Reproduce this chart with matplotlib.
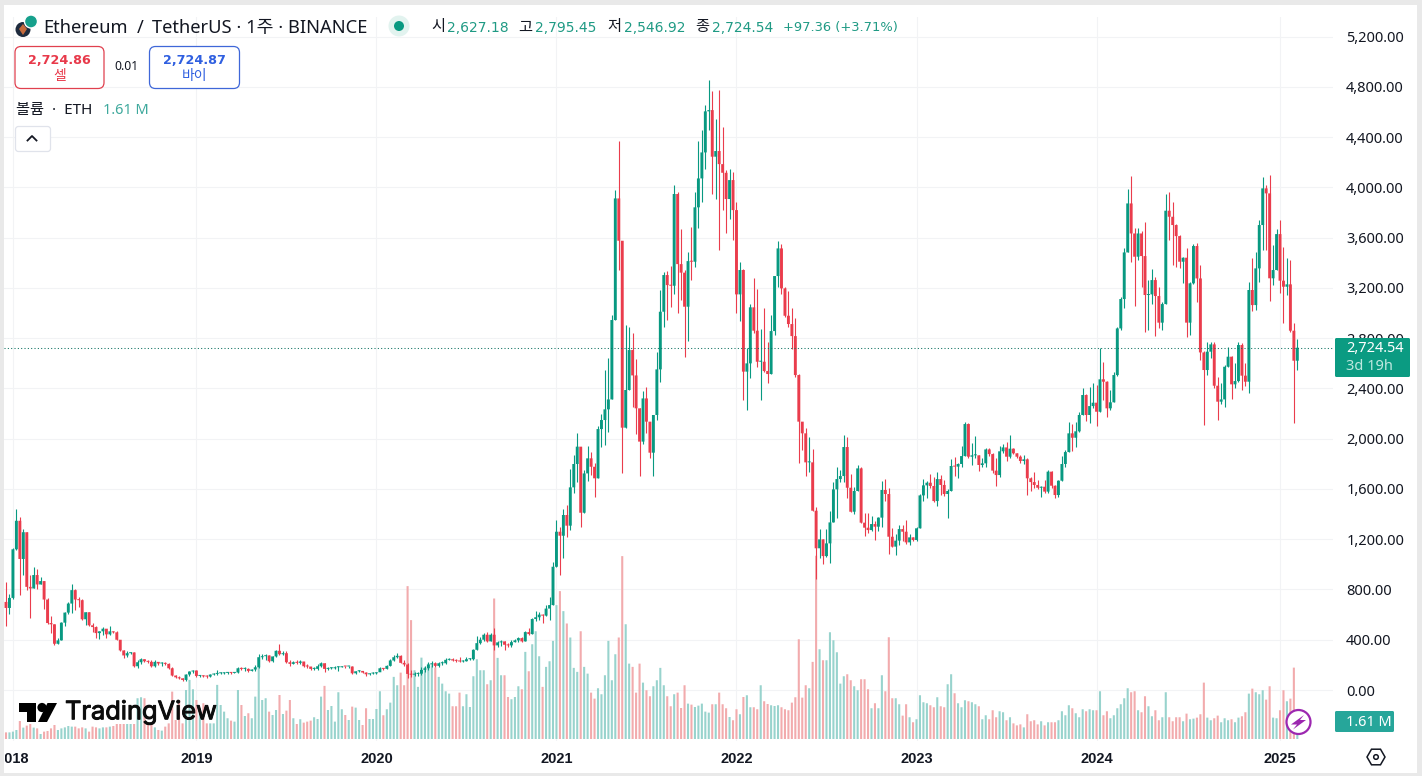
import numpy as np
import pandas as pd
import matplotlib
matplotlib.use("Agg")
import matplotlib.pyplot as plt
import matplotlib.patheffects as pe
from matplotlib.patches import Rectangle, FancyBboxPatch, Circle, Polygon, RegularPolygon
from matplotlib.transforms import Bbox

plt.rcParams['font.family'] = ['Noto Sans', 'Noto Sans CJK KR', 'DejaVu Sans']

'''Weekly candles read off the chart'''
'''================================='''
first_date = "2017-12-18"
first_open = 701

closes = [653,733,1120,1347,1043,1256,821,808,915,840,
          867,720,533,523,368,395,536,616,688,795,
          720,715,563,619,515,501,453,467,488,443,
          467,459,400,315,275,293,299,189,221,245,
          229,224,189,224,211,213,208,173,115,101,
          93,80,123,147,155,112,115,109,107,123,
          128,133,133,136,139,136,139,173,168,168,
          152,163,181,261,269,275,229,267,312,285,
          293,221,208,221,216,227,189,187,168,168,
          189,213,168,173,173,181,181,189,187,187,
          133,149,152,139,125,131,133,141,
          173,168,192,235,261,272,216,203,128,122,128,130,
          160,173,203,213,192,213,213,240,245,235,
          232,227,229,245,245,320,373,400,440,387,
          440,355,379,387,360,355,381,395,413,387,
          461,445,565,579,600,592,648,676,981,
          1260,1228,1393,1308,1613,1799,1937,1411,1724,1844,1777,
          1685,2077,2149,2234,2313,2945,3913,3576,2088,2388,
          2706,2504,2242,1977,2321,2136,1889,2189,2552,
          3011,3303,3223,3218,3948,3390,3322,3051,3414,3409,3842,
          4072,4279,4606,4616,4245,4290,4186,4117,3908,4059,
          3820,3149,3343,2534,2600,3046,2860,2613,2613,2539,
          2515,2857,3295,3515,3197,2979,2913,2817,2507,2136,
          2043,1812,1812,1427,1128,1199,1066,1167,1334,1597,
          1679,1703,1934,1610,1419,1584,1764,1332,1292,1273,
          1321,1300,1372,1592,1560,1220,1141,1189,1281,1260,
          1175,1215,1194,1287,1549,1629,1650,1624,1504,1679,
          1632,1560,1584,1783,1778,1799,1862,2117,1857,1868,
          1868,1791,1804,1915,1878,1746,1711,1900,1931,1857,
          1921,1884,1857,1823,1836,1685,1655,1632,1610,1618,
          1579,1738,1626,1552,1666,1799,1894,2043,2008,2059,
          2189,2348,2189,2260,2287,2215,2473,2454,2242,2290,
          2507,2878,3112,3483,3873,3634,3449,3634,3454,3144,
          3149,3263,3136,2924,3072,3815,3767,3701,3613,3409,
          3441,2924,3237,3534,3276,2687,2547,2693,2751,2422,
          2295,2313,2573,2653,2433,2459,2746,2502,2454,3184,
          3064,3356,3701,3993,3953,3277,3343,3629,3258,3210,
          3229,2860,2621,2724.54]

highs = [861,768,1128,1440,1381,1280,1256,915,976,960,
         896,867,733,589,528,415,541,621,701,843,
         800,741,723,624,621,536,507,469,501,488,
         509,469,469,400,320,309,301,299,240,256,
         245,235,235,235,221,224,224,213,181,123,
         115,93,128,155,163,160,123,117,117,128,
         133,160,141,144,147,144,144,181,184,181,
         173,171,197,283,283,288,280,272,320,368,
         309,309,235,229,235,240,221,203,187,181,
         203,224,213,187,181,189,195,195,195,195,
         189,155,160,149,147,136,141,147,
         185,175,197,245,280,293,280,235,213,160,140,141,
         181,192,219,227,219,219,227,253,256,253,
         243,259,237,259,256,328,427,419,453,459,
         451,493,392,400,387,373,395,405,424,421,
         472,493,573,627,619,605,680,741,1015,
         1353,1300,1441,1472,1756,1870,2043,1937,1750,1942,1897,
         1804,2100,2197,2547,2640,2982,3980,4370,3576,2905,
         2892,2839,2632,2242,2382,2409,2136,2189,2693,
         3184,3330,3335,3375,4019,3961,3667,3343,3483,3688,3964,
         4370,4457,4656,4855,4767,4542,4775,4484,4139,4147,
         4125,3887,3404,3348,2719,3070,3276,3189,2870,3038,
         2772,2985,3295,3574,3550,3210,3175,3038,2958,2515,
         2136,2083,2011,1915,1454,1279,1199,1281,1425,1658,
         1775,1751,2027,2016,1716,1613,1791,1772,1406,1406,
         1385,1345,1375,1663,1677,1605,1287,1240,1313,1313,
         1353,1242,1215,1295,1560,1677,1660,1716,1698,1738,
         1711,1671,1600,1836,1852,1805,1945,2136,2125,1963,
         2022,1870,1844,1925,1925,1890,1849,1945,1955,1971,
         2027,1925,1885,1868,1868,1845,1698,1738,1671,1625,
         1671,1751,1745,1635,1670,1862,1910,2130,2114,2136,
         2215,2401,2355,2414,2441,2427,2719,2608,2460,2388,
         2534,2890,3125,3515,3985,4091,3674,3674,3650,3722,
         3263,3348,3290,3210,3090,3945,3966,3887,3710,3620,
         3450,3515,3250,3547,3555,3383,2700,2772,2770,2770,
         2494,2441,2585,2727,2660,2600,2772,2760,2600,3250,
         3436,3489,3741,4080,4020,4099,3542,3666,3741,3529,
         3441,3422,2918,2795.45]

lows = [507,603,728,1115,755,915,795,576,808,800,
        840,645,528,456,360,363,395,507,608,613,
        640,661,560,515,507,461,416,408,440,416,
        440,453,395,309,256,261,288,187,176,208,
        219,216,187,187,200,195,197,168,109,96,
        88,75,75,115,133,107,107,101,99,101,
        117,120,128,128,131,131,133,133,160,149,
        147,149,155,176,245,240,224,224,261,277,
        277,216,195,203,203,208,184,179,163,160,
        163,181,147,160,165,168,155,181,176,179,
        128,128,141,133,115,120,128,131,
        165,160,165,190,227,253,213,192,93,101,110,112,
        117,147,160,187,181,181,200,203,235,229,
        221,219,224,229,235,240,315,368,387,379,
        387,315,341,352,320,341,341,379,379,381,
        387,440,448,547,560,533,587,560,676,
        981,915,1048,1215,1273,1570,1658,1300,1411,1666,1711,
        1539,1685,1937,1950,2056,2313,2945,3343,1730,2088,
        2388,2255,2038,1703,1958,2048,1844,1703,2149,
        2449,2892,2945,3051,3152,3003,3104,2653,2780,3263,3369,
        3674,3887,4144,4457,3948,3908,3502,3820,3640,3749,
        3582,2998,2935,2308,2229,2481,2839,2573,2308,2528,
        2446,2515,2825,3210,3152,2971,2892,2711,2488,1804,
        1910,1706,1738,1427,883,1048,1003,1061,1013,1334,
        1366,1658,1658,1531,1419,1400,1584,1332,1228,1250,
        1268,1194,1265,1300,1507,1080,1135,1074,1154,1186,
        1165,1154,1185,1190,1287,1507,1525,1610,1494,1467,
        1552,1545,1372,1584,1706,1690,1778,1862,1850,1788,
        1850,1746,1775,1772,1865,1730,1624,1698,1890,1823,
        1844,1875,1845,1810,1799,1552,1586,1605,1600,1539,
        1565,1570,1610,1525,1540,1666,1778,1894,1905,1937,
        2050,2189,2141,2122,2242,2101,2215,2308,2170,2230,
        2290,2500,2865,3038,3483,3409,3059,3422,3210,2852,
        2865,3072,2820,2878,2865,3072,3582,3383,3364,3356,
        3242,2812,2825,3230,3091,2626,2109,2507,2640,2400,
        2149,2280,2255,2573,2313,2400,2454,2388,2420,2361,
        3016,3024,3250,3502,3502,3099,3223,3340,3157,2924,
        3144,2850,2128,2546.92]

# weekly volume in millions of ETH
volumes = [.53,.53,.59,.72,1.44,.91,1.07,1.2,.91,.85,
           .4,.59,.64,.85,1.12,.72,.85,.93,1.04,.99,
           .99,.85,.93,.85,.59,.99,.93,.85,.93,.93,
           .99,1.04,1.2,1.2,1.2,1.2,1.2,1.2,3.26,3.34,
           3.26,1.2,1.2,.93,.72,.67,.99,1.25,3.79,1.52,
           3.12,1.25,3.92,4.73,3.98,3.12,2.32,2.86,1.25,1.25,
           1.25,4.33,2.72,2.19,1.66,1.47,1.39,3.92,2.72,1.84,
           2.06,1.66,3.39,5.79,3.12,3.26,2.19,1.92,2.32,3.52,
           2,2.27,3.12,1.66,1.2,1.58,1.31,1.39,1.47,1.74,
           1.6,3.39,4.25,2.32,2.64,1.39,3.74,2.38,1.92,1.52,
           2.59,2.51,1.52,1.12,2.46,1.6,1.6,2.4,
           3.82,1.9,2.38,2.91,4.97,4.3,5.31,4.3,12.23,9.51,
           5.5,4.17,6.51,5.77,6.03,5.9,5.71,4.97,4.43,3.82,
           3.63,2.62,2.62,3.71,2.62,3.58,2.56,5.02,6.38,5.5,
           5.5,4.38,4.7,11.24,6.49,5.1,5.1,3.36,3.18,3.36,
           4.22,3.98,6.97,5.42,7.58,8.62,6.62,4.17,5.77,6.22,
           7.85,10.71,11.83,10.23,9.24,8.12,5.69,5.37,8.62,5.77,
           5.23,3.71,3.23,4.06,3.58,5.1,7.85,4.7,6.78,8.12,
           14.63,9.18,6.03,5.77,3.71,6.03,4.51,3.9,3.42,4.22,
           4.7,5.69,4.3,3.42,2.62,3.58,3.71,2.48,4.3,2.83,
           2.75,2.56,2.67,2.83,2.19,2.11,2.78,2.78,3.71,2.78,
           2.46,1.76,1.5,2.38,1.98,3.36,3.5,2.54,2.54,2.38,
           4.3,3.02,2.8,2.7,2.64,2.7,2.54,2.38,2.3,2.91,
           3.34,7.98,
           3.31,4.3,4.06,6.17,14.66,7.18,6.3,6.3,8.54,7.9,
           6.94,4.43,5.02,5.18,4.7,4.22,3.9,4.78,4.78,3.98,
           2.46,2.86,2.46,5.1,3.82,8.14,3.26,3.26,2.78,1.87,
           2.78,1.74,1.34,1.58,3.5,2.94,2.86,2.7,2.54,3.34,
           2.62,2.54,4.38,5.18,3.66,2.86,2.54,3.1,3.02,2.94,
           2.78,2.62,1.58,1.9,1.58,2.3,1.74,2.22,2.14,1.5,
           1.74,1.25,1.09,1.17,.93,1.98,1.42,1.5,1.17,1.42,
           1.09,1.34,1.34,1.34,1.5,2.22,1.9,2.7,2.46,2.06,
           1.74,2.38,2.22,2.38,2.3,2.3,3.82,1.9,2.22,1.66,
           1.9,2.46,2.78,3.26,4.06,3.74,3.82,2.3,2.14,3.42,
           2.62,1.82,2.3,1.5,1.74,3.74,1.74,1.42,1.74,1.74,
           1.42,2.03,1.58,1.63,1.71,1.98,4.51,1.71,1.5,1.66,
           1.87,1.34,1.66,1.5,1.58,1.34,1.71,1.82,2.14,3.63,
           4.03,3.74,3.58,3.9,3.15,4.22,1.71,1.66,2.3,3.9,
           3.02,3.23,5.71,1.61]

price_ticks = [0,400,800,1200,1600,2000,2400,2800,3200,3600,4000,4400,4800,5200]
last_price = 2724.54

if not (len(closes) == len(highs) == len(lows) == len(volumes)):
    raise ValueError(str((len(closes), len(highs), len(lows), len(volumes))))

up_color = "#089981"
down_color = "#ea3c4c"
vol_up = "#98d3cd"
vol_down = "#f2abad"
grid_color = "#f2f3f5"
label_green = "#1f9a84"

closes = np.array(closes, dtype=float)
highs = np.array(highs, dtype=float)
lows = np.array(lows, dtype=float)
volumes = np.array(volumes, dtype=float)
opens = np.r_[first_open, closes[:-1]]
dates = pd.date_range(first_date, periods=len(closes), freq="W-MON")
x = np.arange(len(closes))
is_up = closes >= opens

fig = plt.figure(figsize=(14.22, 7.76), dpi=100, facecolor="#e9e9e9")

# backing panel in pixel coordinates
panel = fig.add_axes([0, 0, 1, 1], zorder=0)
panel.set_xlim(0, 1422)
panel.set_ylim(776, 0)
panel.axis("off")
panel.add_patch(Rectangle((4, 5), 1413, 768, fc="white", ec="none"))

left, right, top, bottom = 4, 1333, 17, 741
ax = fig.add_axes([left/1422, 1-bottom/776, (right-left)/1422, (bottom-top)/776], zorder=1)
ax.patch.set_visible(False)
ax.set_xlim((left-6)/3.462, (right-6)/3.462)
ax.set_ylim((690-bottom)/0.12563, (690-top)/0.12563)
for s in ax.spines.values():
    s.set_visible(False)

'''Grid and axes'''
'''============='''
year_first = pd.Series(x, index=dates).groupby(dates.year).first()
year_first = year_first[year_first.index >= 2018]
ax.set_xticks(year_first.values)
ax.set_xticklabels([str(y) for y in year_first.index], fontsize=10.5, fontweight="bold",
                   family=["Liberation Sans"], color="#131722")
ax.yaxis.tick_right()
ax.set_yticks(price_ticks)
ax.set_yticklabels(["{:,.2f}".format(p) for p in price_ticks], fontsize=10.5, color="#131722")
ax.tick_params(axis="x", length=0, pad=8)
ax.tick_params(axis="y", length=0, pad=9.5)
ax.grid(True, color=grid_color, lw=0.8, zorder=0)
ax.set_axisbelow(True)
for lab in ax.get_xticklabels():
    lab.set_clip_on(True)
    lab.set_clip_box(Bbox([[5, 0], [1422, 776]]))

'''Volume under the candles'''
'''========================'''
vol_scale = 99.5
vol_base = (690-739)/0.12563
vol_bars = ax.bar(x, volumes*vol_scale, bottom=vol_base, width=0.6, lw=0,
                  color=[vol_up if u else vol_down for u in is_up], zorder=1)
for b in vol_bars:
    b.set_snap(False)

'''Candles'''
'''======='''
cols = [up_color if u else down_color for u in is_up]
ax.vlines(x, lows, highs, colors=cols, lw=0.8, zorder=2)
body_bars = ax.bar(x, np.maximum(np.abs(closes-opens), 8), bottom=np.minimum(opens, closes),
                   width=0.84, color=cols, lw=0, zorder=3)
for b in body_bars:
    b.set_snap(False)
ax.axhline(last_price, color="#0a6f5e", lw=0.75, ls=(0, (1, 2.2)), zorder=4)

'''Chrome on top'''
'''============='''
top_ax = fig.add_axes([0, 0, 1, 1], zorder=2)
top_ax.set_xlim(0, 1422)
top_ax.set_ylim(776, 0)
top_ax.axis("off")
top_ax.patch.set_visible(False)

top_ax.add_patch(Circle((23, 29.5), 7.5, fc="#1e2b3e", ec="none"))
top_ax.add_patch(Polygon([(23, 24), (27, 29), (23, 35), (19, 29)], fc="#c56a3c", ec="none"))
top_ax.add_patch(Circle((31, 21.5), 6.5, fc="#16a08c", ec="white", lw=1))
top_ax.text(43, 28, "Ethereum", fontsize=13.2, va="center", color="#131722")
top_ax.text(137, 28, "/", fontsize=13.2, va="center", color="#131722")
top_ax.text(152, 28, "TetherUS · 1주 · BINANCE", fontsize=13.2, va="center", color="#131722")

top_ax.add_patch(Circle((399, 26), 10.5, fc="#e2f3ef", ec="none"))
top_ax.add_patch(Circle((399, 26), 5, fc=up_color, ec="none"))

for lab_x, lab, val_x, val in [(431, "시", 447, "2,627.18"), (518, "고", 535, "2,795.45"),
                               (607, "저", 624, "2,546.92"), (695, "종", 712, "2,724.54")]:
    top_ax.text(lab_x, 28, lab, fontsize=11, va="center", color="#131722")
    top_ax.text(val_x, 27.5, val, fontsize=10, va="center", family=["DejaVu Sans"], color=label_green)
top_ax.text(783, 27.5, "+97.36 (+3.71%)", fontsize=9.4, va="center", family=["DejaVu Sans"], color=label_green)

top_ax.add_patch(FancyBboxPatch((15, 46.5), 89, 42, boxstyle="round,pad=0,rounding_size=6",
                                fc="white", ec="#e0404f", lw=0.9))
top_ax.text(59.5, 60, "2,724.86", fontsize=9.2, fontweight="bold", ha="center", va="center",
            family=["DejaVu Sans"], color="#e8394a")
top_ax.text(59.5, 76.5, "셀", fontsize=10, ha="center", va="center", color="#e8394a")
top_ax.text(126, 67, "0.01", fontsize=8.8, ha="center", va="center", color="#131722")
top_ax.add_patch(FancyBboxPatch((149.5, 46.5), 90, 42, boxstyle="round,pad=0,rounding_size=6",
                                fc="white", ec="#3f67d8", lw=0.9))
top_ax.text(194.5, 60, "2,724.87", fontsize=9.2, fontweight="bold", ha="center", va="center",
            family=["DejaVu Sans"], color="#2f5fe0")
top_ax.text(194.5, 76.5, "바이", fontsize=10, ha="center", va="center", color="#2f5fe0")

top_ax.text(16, 110.5, "볼륨  ·  ETH", fontsize=11, va="center", color="#131722")
top_ax.text(103, 110, "1.61 M", fontsize=10.5, va="center", color="#3fa99d")

top_ax.add_patch(FancyBboxPatch((15.5, 126.5), 35, 25, boxstyle="round,pad=0,rounding_size=3",
                                fc="white", ec="#e0e3eb", lw=0.9))
top_ax.plot([27.5, 32, 36.5], [140.5, 136, 140.5], color="#131722", lw=1.3)

# last price tag, hides most of the 2,800 label like the real chart
top_ax.add_patch(FancyBboxPatch((1335, 338), 75, 39, boxstyle="round,pad=0,rounding_size=1.5",
                                fc="#0b9b82", ec="none"))
top_ax.text(1346, 348.5, "2,724.54", fontsize=10.5, va="center", color="white")
top_ax.text(1346, 366, "3d 19h", fontsize=10.5, va="center", color="#bfe8df")

# volume tag
top_ax.add_patch(FancyBboxPatch((1335, 711), 59, 21, boxstyle="round,pad=0,rounding_size=1.5",
                                fc="#26a69a", ec="none"))
top_ax.text(1346, 722, "1.61 M", fontsize=10.5, va="center", color="white")

# logo
top_ax.add_patch(Polygon([(19, 703), (36, 703), (36, 722), (27, 722), (27, 712), (19, 712)], fc="black", ec="none"))
top_ax.add_patch(Circle((42, 707.5), 4.6, fc="black", ec="none"))
top_ax.add_patch(Polygon([(47.5, 703), (57, 703), (47, 722), (38, 722)], fc="black", ec="none"))
top_ax.text(65, 712.5, "TradingView", fontsize=18.3, va="center", family=["Inter", "DejaVu Sans"], color="#0c0c0c",
            path_effects=[pe.withStroke(linewidth=0.7, foreground="#0c0c0c")])

# bolt badge and settings hexagon
top_ax.add_patch(Circle((1298.5, 722), 12, fc="white", ec="#9c27b0", lw=1.6))
top_ax.add_patch(Polygon([(1304, 715), (1291, 724.5), (1297, 724.5), (1293, 729.5), (1306, 720), (1300, 720)],
                         fc="#9c27b0", ec="none"))
top_ax.add_patch(RegularPolygon((1376, 757), 6, radius=9, orientation=np.pi/6, fc="white", ec="#131722", lw=1.1))
top_ax.add_patch(Circle((1376, 757), 2.3, fc="white", ec="#131722", lw=1.1))

fig.savefig("out.png", dpi=100, facecolor=fig.get_facecolor())
